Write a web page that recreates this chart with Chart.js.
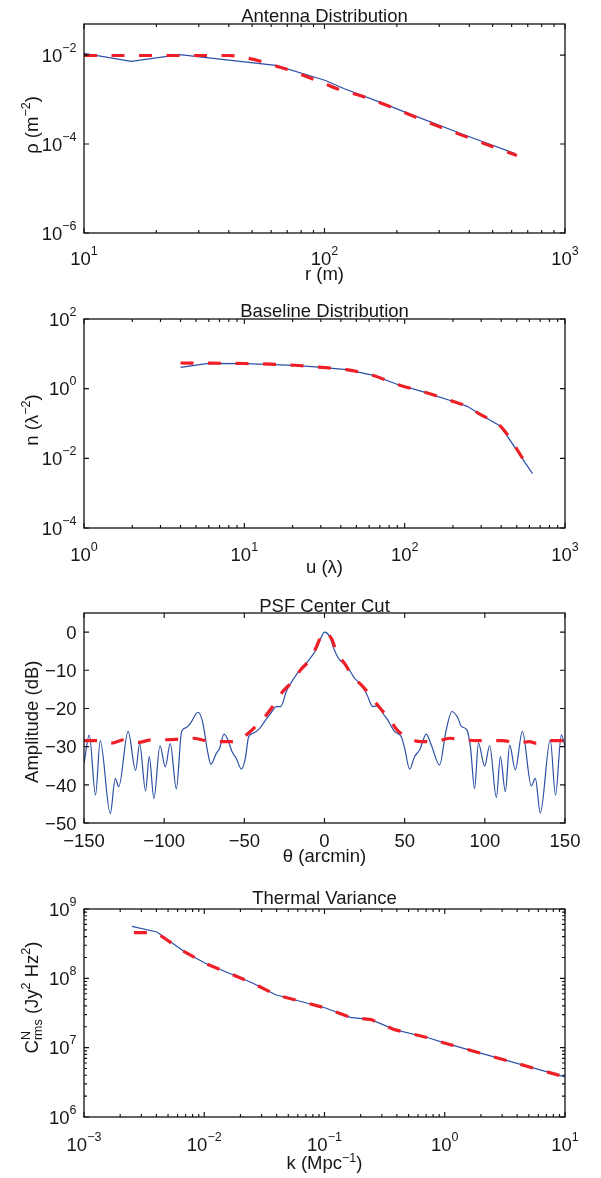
<!DOCTYPE html>
<html>
<head>
<meta charset="utf-8">
<title>Antenna, baseline, PSF and thermal variance</title>
<script src="https://cdn.jsdelivr.net/npm/chart.js@4.4.1/dist/chart.umd.min.js"></script>
<style>
  html, body { margin: 0; padding: 0; background: #ffffff; }
  #page { position: relative; width: 601px; height: 1178px; overflow: hidden; background: #ffffff; }
  #page canvas { position: absolute; left: 0; }
</style>
</head>
<body>
<div id="page">
  <canvas id="cAntenna"  width="601" height="290" style="top:0px;width:601px;height:290px"></canvas>
  <canvas id="cBaseline" width="601" height="290" style="top:290px;width:601px;height:290px"></canvas>
  <canvas id="cPsf"      width="601" height="300" style="top:580px;width:601px;height:300px"></canvas>
  <canvas id="cThermal"  width="601" height="298" style="top:880px;width:601px;height:298px"></canvas>
</div>
<script>
// ===================== DATA =====================
// Panel 1: Antenna Distribution  (r in m, rho in m^-2)
const antennaR        = [10, 15.7, 25, 62.7, 101, 121, 175, 230, 385, 621];
const antennaRho      = [0.0109, 0.0072, 0.0102, 0.00585, 0.00269, 0.00175, 0.00082, 0.00046, 0.000158, 0.000061];
const antennaModelR   = [10, 40, 48, 56, 62.7, 75, 84, 100, 113, 148, 292, 631];
const antennaModelRho = [0.0098, 0.0098, 0.0085, 0.0069, 0.0057, 0.0042, 0.0033, 0.0023, 0.00175, 0.00112, 0.000261, 0.000055];
const antennaXTicks      = [10, 100, 1000];
const antennaXTickLabels = ['10^1', '10^2', '10^3'];
const antennaYTicks      = [1e-6, 1e-4, 1e-2];
const antennaYTickLabels = ['10^\u22126', '10^\u22124', '10^\u22122'];

// Panel 2: Baseline Distribution  (u in wavelengths, n in lambda^-2)
const baselineU      = [4.0, 5.98, 10.1, 20.6, 30.4, 43.4, 63.8, 91.3, 134, 208, 246, 298, 397, 627];
const baselineN      = [4.09, 5.33, 5.23, 4.68, 4.09, 3.51, 2.40, 1.30, 0.785, 0.406, 0.311, 0.179, 0.083, 0.00363];
const baselineModelU = [4.0, 5.98, 10.1, 20.6, 30.4, 43.4, 63.8, 91.3, 134, 208, 246, 298, 397, 577];
const baselineModelN = [5.46, 5.38, 5.28, 4.70, 4.09, 3.51, 2.40, 1.30, 0.785, 0.406, 0.311, 0.179, 0.083, 0.0066];
const baselineXTicks      = [1, 10, 100, 1000];
const baselineXTickLabels = ['10^0', '10^1', '10^2', '10^3'];
const baselineYTicks      = [1e-4, 1e-2, 1, 100];
const baselineYTickLabels = ['10^\u22124', '10^\u22122', '10^0', '10^2'];

// Panel 3: PSF Center Cut  (theta in arcmin, amplitude in dB)
const psfTheta = [-150, -146.7, -142.8, -139.9, -133.6, -130.5, -128.3, -122.5, -117.8, -115.3,
                  -111.6, -109.3, -106.4, -102.6, -99.3, -96.2, -92.4, -89.1, -86.2, -83.5,
                  -78.9, -76.1, -72.9, -70.9, -67.4, -65.4, -62.7, -60.2, -57.7, -55.0,
                  -51.8, -49.4, -47.3, -44.6, -40.4, -37.3, -33.1, -30.0, -27.3, -23.8,
                  -20.9, -16.7, -9.5, -5.3, -2.2, 0, 3.0, 6.1, 9.3, 13.4,
                  18.6, 23.8, 26.9, 30.0, 33.6, 36.3, 39.4, 43.6, 47.9, 50.0,
                  53.1, 56.2, 59.3, 63.5, 66.6, 71.8, 75.5, 79.5, 83.2, 85.3,
                  88.8, 91.1, 93.6, 96.0, 99.9, 103.0, 107.2, 109.7, 112.8, 115.5,
                  119.0, 123.4, 129.0, 131.5, 134.6, 140.8, 144.1, 147.7, 150];
const psfDb    = [-34.5, -27.0, -42.7, -28.4, -47.5, -38.4, -40.5, -26.0, -36.2, -29.2,
                  -41.6, -32.6, -43.6, -29.7, -35.3, -29.2, -41.0, -26.0, -25.0, -23.8,
                  -21.0, -23.4, -31.3, -34.6, -31.7, -30.4, -26.7, -28.2, -31.3, -33.1,
                  -35.9, -33.1, -27.4, -26.5, -25.2, -23.4, -21.0, -19.5, -19.5, -15.5,
                  -13.3, -10.7, -7.2, -4.6, -1.5, 0, -1.0, -4.6, -7.2, -8.5,
                  -12.0, -14.2, -16.8, -19.5, -19.3, -21.2, -23.0, -26.0, -27.4, -30.4,
                  -35.9, -32.6, -30.9, -26.7, -29.6, -34.8, -26.5, -20.8, -22.5, -24.7,
                  -25.6, -30.4, -41.0, -29.1, -35.1, -29.7, -43.3, -32.6, -41.8, -29.6,
                  -36.1, -26.0, -40.3, -38.3, -47.4, -28.2, -42.7, -26.9, -29.8];
const psfModelTheta = [-150, -141, -133, -125, -116, -108, -98, -90, -82, -74, -64, -56, -48.1, -42.5,
                       -36.3, -31.5, -25.9, -20.3, -14.7, -9.5, -5.3, -1.6, 0, 4.6, 7.6, 13, 17.6,
                       23.8, 29, 34.6, 40, 45.2, 52, 56, 60.4, 68.7, 78, 86, 95, 103, 111, 120,
                       128, 132, 136, 146.6, 150];
const psfModelDb    = [-28.4, -28.4, -29.1, -28.2, -28.9, -28.2, -28.2, -28.0, -27.8, -28.4, -28.7, -28.7, -26.7, -24.5,
                       -21.7, -19.0, -15.5, -13.1, -9.8, -7.4, -4.1, -0.6, 0, -1.9, -5.4, -8.5, -11.6,
                       -14.2, -16.8, -19.9, -22.5, -25.6, -27.6, -28.4, -28.7, -28.7, -27.8, -28.2, -28.4, -28.4, -28.4, -29.0,
                       -28.7, -29.1, -28.4, -28.4, -28.4];
const psfXTicks      = [-150, -100, -50, 0, 50, 100, 150];
const psfXTickLabels = ['\u2212150', '\u2212100', '\u221250', '0', '50', '100', '150'];
const psfYTicks      = [-50, -40, -30, -20, -10, 0];
const psfYTickLabels = ['\u221250', '\u221240', '\u221230', '\u221220', '\u221210', '0'];

// Panel 4: Thermal Variance  (k in Mpc^-1, C in Jy^2 Hz^2)
const thermalK      = [0.0025, 0.00404, 0.00675, 0.0101, 0.0252, 0.0392, 0.102, 0.164, 0.245, 0.382, 0.74, 0.99, 10];
const thermalC      = [5.62e8, 4.66e8, 2.45e8, 1.66e8, 8.57e7, 5.8e7, 3.73e7, 2.74e7, 2.54e7, 1.82e7, 1.38e7, 1.17e7, 3.78e6];
const thermalModelK = [0.0026, 0.004, 0.00675, 0.0101, 0.0252, 0.0392, 0.102, 0.164, 0.245, 0.382, 0.74, 0.99, 10];
const thermalModelC = [4.55e8, 4.55e8, 2.45e8, 1.66e8, 8.57e7, 5.8e7, 3.73e7, 2.74e7, 2.54e7, 1.82e7, 1.38e7, 1.17e7, 3.78e6];
const thermalXTicks      = [1e-3, 1e-2, 1e-1, 1, 10];
const thermalXTickLabels = ['10^\u22123', '10^\u22122', '10^\u22121', '10^0', '10^1'];
const thermalYTicks      = [1e6, 1e7, 1e8, 1e9];
const thermalYTickLabels = ['10^6', '10^7', '10^8', '10^9'];

// ===================== STYLE / LAYOUT =====================
const FONT_FAMILY = '"Liberation Sans", Arial, Helvetica, sans-serif';
const BASE_SIZE = 18.5;
const SMALL_SIZE = 12.5;
const TEXT_COLOR = '#161616';
const AXIS_COLOR = '#111111';
const BLUE = '#2c4fa6';
const RED = '#ee1f26';

function setFont(ctx, sz) { ctx.font = sz + 'px ' + FONT_FAMILY; }

function layoutRich(ctx, segs, raise, drop) {
  let x = 0, stackStart = 0;
  const items = [];
  segs.forEach(s => {
    const kind = s.k || 'n';
    const sz = kind === 'n' ? BASE_SIZE : SMALL_SIZE;
    setFont(ctx, sz);
    const w = ctx.measureText(s.t).width;
    const sx = s.stack ? stackStart : x;
    const dy = kind === 'sup' ? -raise : (kind === 'sub' ? drop : 0);
    items.push({ t: s.t, x: sx, dy, sz });
    if (s.stack) { x = Math.max(x, sx + w); } else { stackStart = sx; x = sx + w; }
  });
  return { items, width: x };
}

function drawRich(ctx, segs, x, y, align, raise, drop) {
  const L = layoutRich(ctx, segs, raise, drop);
  const x0 = align === 'center' ? x - L.width / 2 : (align === 'right' ? x - L.width : x);
  ctx.textAlign = 'left';
  ctx.textBaseline = 'alphabetic';
  L.items.forEach(it => { setFont(ctx, it.sz); ctx.fillText(it.t, x0 + it.x, y + it.dy); });
}

function tickSegs(label) {
  const parts = label.split('^');
  return parts.length === 2 ? [{ t: parts[0] }, { t: parts[1], k: 'sup' }] : [{ t: label }];
}

function logMinor(majors) {
  const out = [];
  for (let i = 0; i < majors.length - 1; i++) {
    for (let m = 2; m <= 9; m++) out.push(majors[i] * m);
  }
  return out;
}

const matlabAxes = {
  id: 'matlabAxes',
  afterDraw(chart, args, o) {
    const ctx = chart.ctx, a = chart.chartArea;
    const xs = chart.scales.x, ys = chart.scales.y;
    ctx.save();
    ctx.strokeStyle = AXIS_COLOR;
    ctx.lineWidth = 1.15;
    ctx.beginPath();
    const xt = (vals, len) => vals.forEach(v => {
      const p = xs.getPixelForValue(v);
      ctx.moveTo(p, a.bottom); ctx.lineTo(p, a.bottom - len);
      ctx.moveTo(p, a.top); ctx.lineTo(p, a.top + len);
    });
    const yt = (vals, len) => vals.forEach(v => {
      const p = ys.getPixelForValue(v);
      ctx.moveTo(a.left, p); ctx.lineTo(a.left + len, p);
      ctx.moveTo(a.right, p); ctx.lineTo(a.right - len, p);
    });
    xt(o.xTicks, 5); xt(o.xMinor || [], 3);
    yt(o.yTicks, 5); yt(o.yMinor || [], 3);
    ctx.stroke();
    ctx.lineWidth = 1.3;
    ctx.strokeRect(a.left, a.top, a.right - a.left, a.bottom - a.top);

    ctx.fillStyle = TEXT_COLOR;
    // tick labels
    o.xTicks.forEach((v, i) => drawRich(ctx, tickSegs(o.xLabels[i]), xs.getPixelForValue(v), a.bottom + o.xLabelDy, 'center', 10, 0));
    o.yTicks.forEach((v, i) => drawRich(ctx, tickSegs(o.yLabels[i]), a.left - 7.5, ys.getPixelForValue(v) + 6.8, 'right', 10, 0));
    // title
    drawRich(ctx, [{ t: o.title }], (a.left + a.right) / 2, o.titleY, 'center', 0, 0);
    // x label
    drawRich(ctx, o.xTitle, (a.left + a.right) / 2, o.xTitleY, 'center', 7.5, 4.5);
    // y label (rotated)
    ctx.translate(37.5, o.yTitleY);
    ctx.rotate(-Math.PI / 2);
    drawRich(ctx, o.yTitle, 0, 0, 'center', 7.5, 4.5);
    ctx.restore();
  }
};

function toPoints(xs, ys) { return xs.map((x, i) => ({ x, y: ys[i] })); }

function buildChart(id, s) {
  return new Chart(document.getElementById(id), {
    type: 'line',
    data: {
      datasets: [
        { label: 'model', data: toPoints(s.modelX, s.modelY), borderColor: RED, borderWidth: 3.2,
          borderDash: [13, 14.5], borderCapStyle: 'butt', pointRadius: 0, fill: false, order: 0,
          tension: 0, cubicInterpolationMode: s.modelSmooth ? 'monotone' : 'default' },
        { label: 'data', data: toPoints(s.dataX, s.dataY), borderColor: BLUE, borderWidth: 1.2,
          pointRadius: 0, fill: false, order: 1,
          tension: 0, cubicInterpolationMode: s.dataSmooth ? 'monotone' : 'default' }
      ]
    },
    options: {
      responsive: false, animation: false, devicePixelRatio: 1, events: [],
      layout: { padding: { left: 84, right: 36, top: s.top, bottom: s.bottom } },
      scales: {
        x: { type: s.xType, min: s.xMin, max: s.xMax, display: false },
        y: { type: s.yType, min: s.yMin, max: s.yMax, display: false }
      },
      plugins: {
        legend: { display: false }, tooltip: { enabled: false }, title: { display: false },
        matlabAxes: s.axes
      }
    },
    plugins: [matlabAxes]
  });
}

buildChart('cAntenna', {
  dataX: antennaR, dataY: antennaRho, modelX: antennaModelR, modelY: antennaModelRho,
  dataSmooth: false, modelSmooth: true,
  xType: 'logarithmic', xMin: 10, xMax: 1000, yType: 'logarithmic', yMin: 1e-6, yMax: 0.05,
  top: 24, bottom: 57,
  axes: {
    xTicks: antennaXTicks, xMinor: logMinor(antennaXTicks), xLabels: antennaXTickLabels, xLabelDy: 32,
    yTicks: antennaYTicks, yMinor: [], yLabels: antennaYTickLabels,
    title: 'Antenna Distribution', titleY: 21.7,
    xTitle: [{ t: 'r (m)' }], xTitleY: 279.5,
    yTitle: [{ t: '\u03C1 (m' }, { t: '\u22122', k: 'sup' }, { t: ')' }], yTitleY: 125
  }
});

buildChart('cBaseline', {
  dataX: baselineU, dataY: baselineN, modelX: baselineModelU, modelY: baselineModelN,
  dataSmooth: false, modelSmooth: true,
  xType: 'logarithmic', xMin: 1, xMax: 1000, yType: 'logarithmic', yMin: 1e-4, yMax: 100,
  top: 29, bottom: 52,
  axes: {
    xTicks: baselineXTicks, xMinor: logMinor(baselineXTicks), xLabels: baselineXTickLabels, xLabelDy: 33,
    yTicks: baselineYTicks, yMinor: [], yLabels: baselineYTickLabels,
    title: 'Baseline Distribution', titleY: 26.7,
    xTitle: [{ t: 'u (\u03BB)' }], xTitleY: 282.8,
    yTitle: [{ t: 'n (\u03BB' }, { t: '\u22122', k: 'sup' }, { t: ')' }], yTitleY: 130
  }
});

buildChart('cPsf', {
  dataX: psfTheta, dataY: psfDb, modelX: psfModelTheta, modelY: psfModelDb,
  dataSmooth: true, modelSmooth: true,
  xType: 'linear', xMin: -150, xMax: 150, yType: 'linear', yMin: -50, yMax: 5,
  top: 33, bottom: 57,
  axes: {
    xTicks: psfXTicks, xMinor: [], xLabels: psfXTickLabels, xLabelDy: 24,
    yTicks: psfYTicks, yMinor: [], yLabels: psfYTickLabels,
    title: 'PSF Center Cut', titleY: 31.7,
    xTitle: [{ t: '\u03B8 (arcmin)' }], xTitleY: 282,
    yTitle: [{ t: 'Amplitude (dB)' }], yTitleY: 141.7
  }
});

buildChart('cThermal', {
  dataX: thermalK, dataY: thermalC, modelX: thermalModelK, modelY: thermalModelC,
  dataSmooth: false, modelSmooth: false,
  xType: 'logarithmic', xMin: 1e-3, xMax: 10, yType: 'logarithmic', yMin: 1e6, yMax: 1e9,
  top: 29, bottom: 61,
  axes: {
    xTicks: thermalXTicks, xMinor: logMinor(thermalXTicks), xLabels: thermalXTickLabels, xLabelDy: 34,
    yTicks: thermalYTicks, yMinor: logMinor(thermalYTicks), yLabels: thermalYTickLabels,
    title: 'Thermal Variance', titleY: 24,
    xTitle: [{ t: 'k (Mpc' }, { t: '\u22121', k: 'sup' }, { t: ')' }], xTitleY: 289,
    yTitle: [{ t: 'C' }, { t: 'N', k: 'sup' }, { t: 'rms', k: 'sub', stack: true },
             { t: ' (Jy' }, { t: '2', k: 'sup' }, { t: ' Hz' }, { t: '2', k: 'sup' }, { t: ')' }],
    yTitleY: 117.5
  }
});
</script>
</body>
</html>
